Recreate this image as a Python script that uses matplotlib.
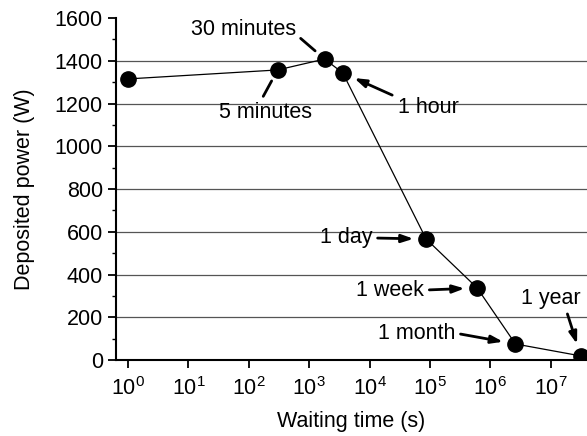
import matplotlib.pyplot as plt

plt.rcParams['font.family'] = ['Liberation Sans', 'DejaVu Sans']
plt.rcParams['mathtext.default'] = 'regular'

# Waiting time (s) and deposited power (W)
times = [1, 300, 1800, 3600, 86400, 604800, 2.6e6, 3.15e7]
power = [1315, 1357, 1408, 1343, 566, 337, 75, 19]

labels = ['5 minutes', '30 minutes', '1 hour', '1 day', '1 week', '1 month', '1 year']
label_idx = [1, 2, 3, 4, 5, 6, 7]
# text positions (x in s, y in W), alignment and arrow start point on text box
text_pos = [(186, 1160), (600, 1544), (2.9e4, 1179), (1.1e4, 571),
            (7.9e4, 327), (2.6e5, 126), (1.0e7, 290)]
text_ha = ['center', 'right', 'left', 'right', 'right', 'right', 'center']
rel_pos = [(0.45, 1.0), (1.0, 0.3), (0.0, 1.0), (1.0, 0.5), (1.0, 0.5), (1.0, 0.5), (0.75, 0.0)]
heads = ['-', '-', '-|>', '-|>', '-|>', '-|>', '-|>']

fig = plt.figure(figsize=(5.87, 4.36), dpi=100)
ax = fig.add_axes([0.1976, 0.1743, 0.8024, 0.7844])

ax.plot(times, power, color='black', lw=0.9, marker='o', markersize=11, zorder=3)

ax.set_xscale('log')
ax.set_xlim(0.633, 3.98e7)
ax.set_ylim(0, 1600)
ax.set_yticks(range(0, 1601, 200))
ax.set_yticks(range(100, 1600, 200), minor=True)
ax.set_xticks([10**k for k in range(0, 8)])

for y in range(200, 1600, 200):
    ax.axhline(y, color='#555555', lw=0.9, zorder=1)

ax.spines['top'].set_visible(False)
ax.spines['right'].set_visible(False)
ax.spines['left'].set_linewidth(1.5)
ax.spines['bottom'].set_linewidth(1.5)
ax.tick_params(axis='both', which='major', labelsize=15.5, length=6, width=1.3, direction='out')
ax.tick_params(axis='x', which='major', pad=6)
ax.tick_params(axis='both', which='minor', length=3, width=1.0, direction='out')

ax.set_xlabel('Waiting time (s)', fontsize=15.5, labelpad=8)
ax.set_ylabel('Deposited power (W)', fontsize=15.5, labelpad=14)

for lab, i, pos, ha, rp, hd in zip(labels, label_idx, text_pos, text_ha, rel_pos, heads):
    style = hd if hd == '-' else hd + ',head_length=0.45,head_width=0.15'
    ax.annotate(lab, xy=(times[i], power[i]), xytext=pos, ha=ha, va='center',
                fontsize=15.5, zorder=4,
                arrowprops=dict(arrowstyle=style, color='black', lw=2.0,
                                relpos=rp, shrinkA=2, shrinkB=9))

fig.savefig('out.png', dpi=100)
